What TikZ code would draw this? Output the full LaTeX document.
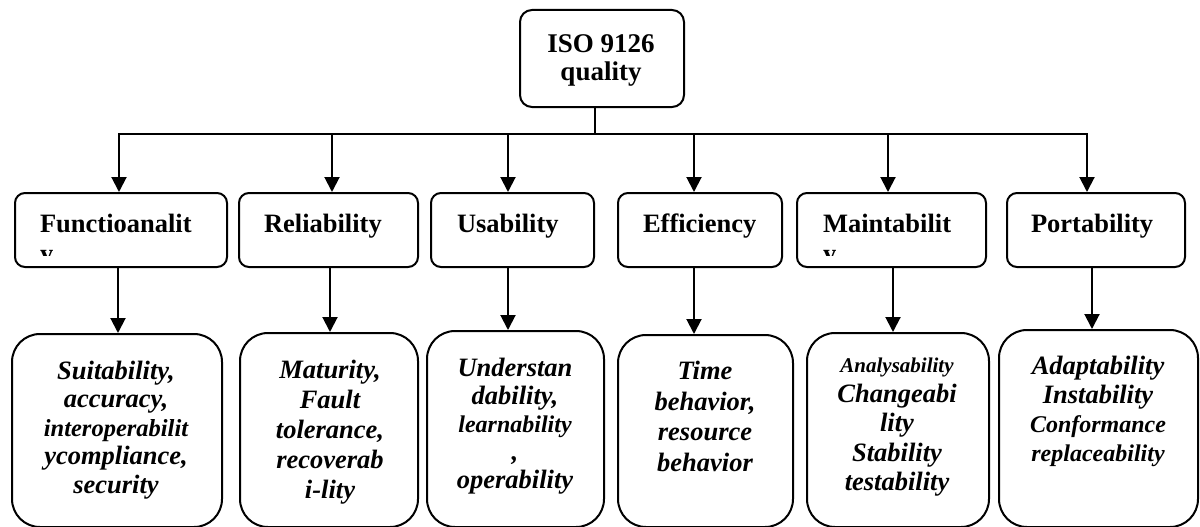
\documentclass[tikz,border=0pt]{standalone}
\usepackage{fontspec}
\setmainfont{Liberation Serif}
\usetikzlibrary{arrows.meta}
\begin{document}
\begin{tikzpicture}[x=1pt,y=-1pt,
  line width=2pt,
  arr/.style={-{Triangle[length=15pt,width=15pt]}},
  topbox/.style={draw, rounded corners=12pt, minimum width=164pt, minimum height=97pt, inner sep=0pt},
  lonebox/.style={draw, rounded corners=10pt, minimum height=74pt, inner sep=0pt},
  ltwobox/.style={draw, rounded corners=28pt, inner sep=0pt},
  lonetext/.style={anchor=base west, inner sep=0pt, font=\fontsize{26.5}{30}\selectfont\bfseries},
  ltwotext/.style={anchor=north, inner sep=0pt, align=center},
]
\useasboundingbox (0,0) rectangle (1200,527);

% top
\node[topbox] (top) at (602,58.5) {};
\node[anchor=north, inner sep=0pt, align=center, font=\fontsize{27}{28}\selectfont\bfseries] (toptext) at (601,33.5) {ISO 9126\\quality};

% level 1 boxes
\node[lonebox, minimum width=212pt] (f) at (121,230) {};
\node[lonebox, minimum width=179pt] (r) at (328.5,230) {};
\node[lonebox, minimum width=163pt] (u) at (512.5,230) {};
\node[lonebox, minimum width=164pt] (e) at (700,230) {};
\node[lonebox, minimum width=189pt] (m) at (891.5,230) {};
\node[lonebox, minimum width=178pt] (p) at (1096,230) {};

\node[lonetext] (ft) at (39,232) {Functioanalit};
\node[lonetext] (rt) at (263,232) {Reliability};
\node[lonetext] (ut) at (456,232) {Usability};
\node[lonetext] (et) at (642,232) {Efficiency};
\node[lonetext] (mt) at (822,232) {Maintabilit};
\node[lonetext] (pt) at (1030,232) {Portability};
\begin{scope}
  \clip (15,193) rectangle (227,255);
  \node[lonetext] (fy) at (39,262) {y};
\end{scope}
\begin{scope}
  \clip (797,193) rectangle (986,255);
  \node[lonetext] (my) at (822,262) {y};
\end{scope}

% level 2 boxes
\node[ltwobox, minimum width=210pt, minimum height=193pt] (b1) at (117,430.5) {};
\node[ltwobox, minimum width=178pt, minimum height=194pt] (b2) at (329,430) {};
\node[ltwobox, minimum width=177pt, minimum height=196pt] (b3) at (515.5,429) {};
\node[ltwobox, minimum width=175pt, minimum height=192pt] (b4) at (705.5,431) {};
\node[ltwobox, minimum width=182pt, minimum height=194pt] (b5) at (898,430) {};
\node[ltwobox, minimum width=199pt, minimum height=197pt] (b6) at (1098.5,428.5) {};

\node[ltwotext, font=\fontsize{26.5}{28.5}\selectfont\bfseries\itshape] (t1) at (116,360)
  {Suitability,\\accuracy,\\{\fontsize{24.5}{28.5}\selectfont interoperabilit}\\ycompliance,\\security};
\node[ltwotext, font=\fontsize{26.5}{30}\selectfont\bfseries\itshape] (t2) at (330,359.5)
  {Maturity,\\Fault\\tolerance,\\recoverab\\i-lity};
\node[ltwotext, font=\fontsize{26.5}{28}\selectfont\bfseries\itshape] (t3) at (515,357)
  {Understan\\dability,\\{\fontsize{24}{28}\selectfont learnability}\\,\\operability};
\node[ltwotext, font=\fontsize{26.5}{30.5}\selectfont\bfseries\itshape] (t4) at (705,360.5)
  {Time\\behavior,\\resource\\behavior};
\node[ltwotext, font=\fontsize{26.5}{29.5}\selectfont\bfseries\itshape] (t5) at (897,357)
  {{\fontsize{21}{29.5}\selectfont Analysability}\\Changeabi\\lity\\Stability\\testability};
\node[ltwotext, font=\fontsize{26.5}{29}\selectfont\bfseries\itshape] (t6) at (1098,355)
  {Adaptability\\Instability\\{\fontsize{24}{29}\selectfont Conformance}\\{\fontsize{24}{29}\selectfont replaceability}};

% connectors
\coordinate (a0) at (595,134);
\coordinate (a1) at (119,134);
\coordinate (a2) at (332,134);
\coordinate (a3) at (508,134);
\coordinate (a4) at (694,134);
\coordinate (a5) at (888,134);
\coordinate (a6) at (1087,134);
\draw (top.south -| a0) -- (a0);
\draw[line cap=rect] (a1) -- (a6);
\draw[arr] (a1) -- (a1 |- f.north);
\draw[arr] (a2) -- (a2 |- r.north);
\draw[arr] (a3) -- (a3 |- u.north);
\draw[arr] (a4) -- (a4 |- e.north);
\draw[arr] (a5) -- (a5 |- m.north);
\draw[arr] (a6) -- (a6 |- p.north);

\coordinate (c1) at (118,300);
\coordinate (c2) at (330,300);
\coordinate (c3) at (508,300);
\coordinate (c4) at (694,300);
\coordinate (c5) at (893,300);
\coordinate (c6) at (1092,300);
\draw[arr] (f.south -| c1) -- (b1.north -| c1);
\draw[arr] (r.south -| c2) -- (b2.north -| c2);
\draw[arr] (u.south -| c3) -- (b3.north -| c3);
\draw[arr] (e.south -| c4) -- (b4.north -| c4);
\draw[arr] (m.south -| c5) -- (b5.north -| c5);
\draw[arr] (p.south -| c6) -- (b6.north -| c6);
\end{tikzpicture}
\end{document}
